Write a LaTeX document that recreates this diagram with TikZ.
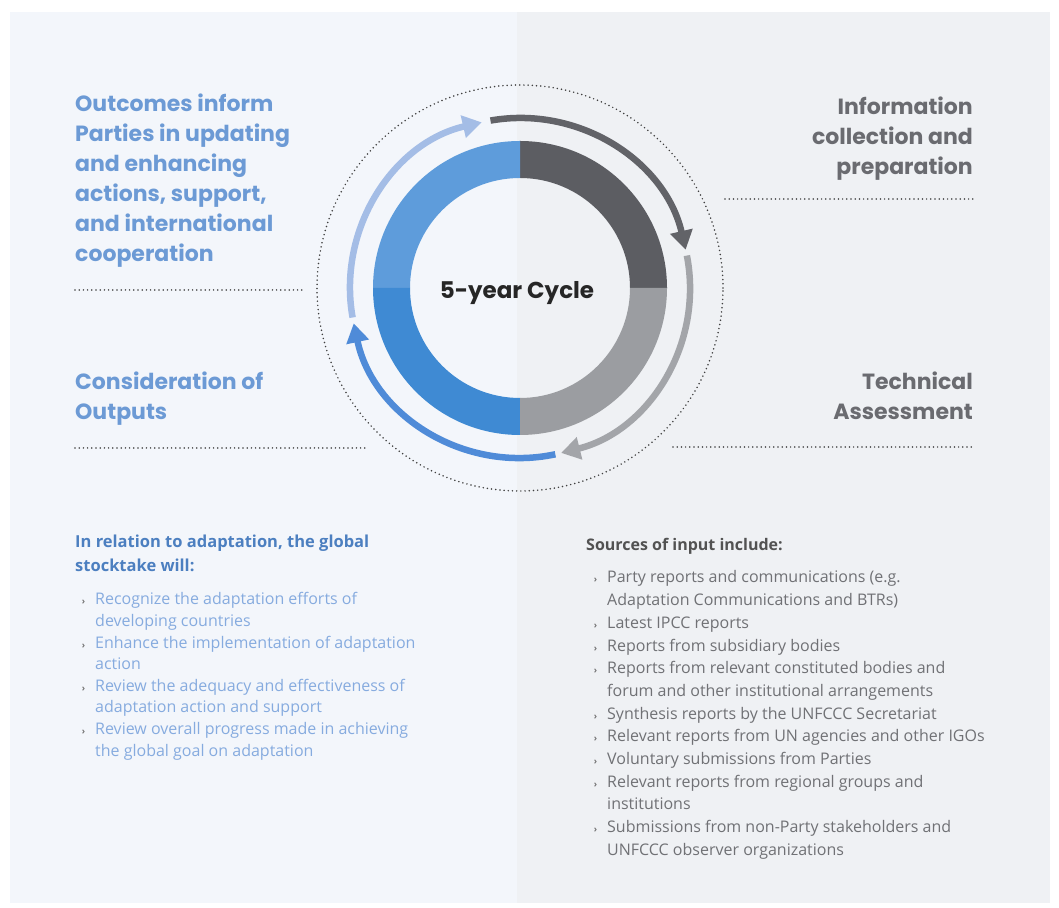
\documentclass[tikz,border=0pt]{standalone}
\usepackage{fontspec}
\setmainfont{Open Sans}
\newfontfamily\headfont{Poppins}
\usetikzlibrary{arrows.meta,positioning}
\definecolor{bgLeft}{HTML}{F3F6FB}
\definecolor{bgRight}{HTML}{EFF1F4}
\definecolor{ringDark}{HTML}{5C5D62}
\definecolor{ringGrey}{HTML}{9B9DA1}
\definecolor{ringBlue}{HTML}{3F8AD3}
\definecolor{ringLight}{HTML}{5E9CDB}
\definecolor{arrDark}{HTML}{626368}
\definecolor{arrGrey}{HTML}{A3A5A9}
\definecolor{arrBlue}{HTML}{4F8BD8}
\definecolor{arrLight}{HTML}{A4BDE6}
\definecolor{headBlue}{HTML}{6C9AD5}
\definecolor{headGrey}{HTML}{6A6B70}
\definecolor{listHead}{HTML}{4C7FC0}
\definecolor{listBlue}{HTML}{86ABDF}
\definecolor{listGrey}{HTML}{707175}
\newcommand{\blt}{\llap{\textcolor{black!55}{\bfseries\small ›}\hspace{10pt}}}

\begin{document}
\begin{tikzpicture}
[
x=1pt,y=1pt,
circarr/.style={line width=6.5pt,-{Triangle[width=22pt,length=19pt]}},
dotted line/.style={draw=black!75,line width=1.7pt,dash pattern=on 0pt off 4.2pt,line cap=round},
heading/.style={inner sep=0pt,align=left,font=\headfont\bfseries\fontsize{22}{30}\selectfont},
listhead/.style={inner sep=0pt,align=left,font=\bfseries\fontsize{16.5}{24}\selectfont},
leftitem/.style={inner sep=0pt,align=left,anchor=base west,text=listBlue,font=\fontsize{16}{21.6}\selectfont},
rightitem/.style={inner sep=0pt,align=left,anchor=base west,text=listGrey,font=\fontsize{16}{22.7}\selectfont},
]

% Background
\useasboundingbox (0,0) rectangle (1059,907);
\fill[white] (0,0) rectangle (1059,907);
\fill[bgLeft] (10,4) rectangle (517,895);
\fill[bgRight] (517,4) rectangle (1050,895);

% Cycle
\coordinate (C) at (520,619);
\fill[ringDark] ([shift={(0:110)}]C) arc[start angle=0,end angle=90,radius=110] -- ([shift={(90:147)}]C) arc[start angle=90,end angle=0,radius=147] -- cycle;
\fill[ringLight] ([shift={(90:110)}]C) arc[start angle=90,end angle=180,radius=110] -- ([shift={(180:147)}]C) arc[start angle=180,end angle=90,radius=147] -- cycle;
\fill[ringBlue] ([shift={(180:110)}]C) arc[start angle=180,end angle=270,radius=110] -- ([shift={(270:147)}]C) arc[start angle=270,end angle=180,radius=147] -- cycle;
\fill[ringGrey] ([shift={(270:110)}]C) arc[start angle=270,end angle=360,radius=110] -- ([shift={(360:147)}]C) arc[start angle=360,end angle=270,radius=147] -- cycle;
\draw[dotted line] (C) circle[radius=203];

% Arrows
\draw[circarr,arrDark] ([shift={(100:170)}]C) arc[start angle=100,end angle=13,radius=170];
\draw[circarr,arrGrey] ([shift={(11:170)}]C) arc[start angle=11,end angle=-76,radius=170];
\draw[circarr,arrBlue] ([shift={(-78:170)}]C) arc[start angle=-78,end angle=-168,radius=170];
\draw[circarr,arrLight] ([shift={(190:170)}]C) arc[start angle=190,end angle=103,radius=170];

\node[inner sep=0pt,font=\headfont\bfseries\fontsize{23}{25}\selectfont,text=black!85] (cycle) at (517,614) {5-year Cycle};

% Stage labels (anchored on the last line)
\node[heading,anchor=base west,text=headBlue] (outc) at (75,645) {Outcomes inform\\Parties in updating\\and enhancing\\actions, support,\\and international\\cooperation};
\node[heading,anchor=base west,text=headBlue] (cons) at (75,487) {Consideration of\\Outputs};
\node[heading,anchor=base east,align=right,text=headGrey] (info) at (973,732) {Information\\collection and\\preparation};
\node[heading,anchor=base east,align=right,text=headGrey] (tech) at (973,487) {Technical\\Assessment};

% Dotted leaders
\coordinate (outcA) at (75,617);
\coordinate (outcB) at (303,617);
\coordinate (consA) at (75,459);
\coordinate (consB) at (365,459);
\coordinate (infoA) at (725,708);
\coordinate (infoB) at (975,708);
\coordinate (techA) at (673,460);
\coordinate (techB) at (975,460);
\draw[dotted line] (outcA) -- (outcB);
\draw[dotted line] (consA) -- (consB);
\draw[dotted line] (infoA) -- (infoB);
\draw[dotted line] (techA) -- (techB);

% Adaptation list
\node[listhead,anchor=base west,text=listHead] (adapt) at (75,335) {In relation to adaptation, the global\\stocktake will:};
\node[leftitem] (ad1) at (95,280.4) {\blt Recognize the adaptation efforts of\\developing countries};
\node[leftitem] (ad2) at (95,237.2) {\blt Enhance the implementation of adaptation\\action};
\node[leftitem] (ad3) at (95,194) {\blt Review the adequacy and effectiveness of\\adaptation action and support};
\node[leftitem] (ad4) at (95,150.8) {\blt Review overall progress made in achieving\\the global goal on adaptation};

% Sources list
\node[inner sep=0pt,anchor=base west,text=black!68,font=\bfseries\fontsize{16}{22}\selectfont] (src) at (586,356) {Sources of input include:};
\node[rightitem] (s1) at (607,301.3) {\blt Party reports and communications (e.g.\\Adaptation Communications and BTRs)};
\node[rightitem] (s2) at (607,278.6) {\blt Latest IPCC reports};
\node[rightitem] (s3) at (607,255.9) {\blt Reports from subsidiary bodies};
\node[rightitem] (s4) at (607,210.5) {\blt Reports from relevant constituted bodies and\\forum and other institutional arrangements};
\node[rightitem] (s5) at (607,187.8) {\blt Synthesis reports by the UNFCCC Secretariat};
\node[rightitem] (s6) at (607,165.1) {\blt Relevant reports from UN agencies and other IGOs};
\node[rightitem] (s7) at (607,142.4) {\blt Voluntary submissions from Parties};
\node[rightitem] (s8) at (607,97) {\blt Relevant reports from regional groups and\\institutions};
\node[rightitem] (s9) at (607,51.6) {\blt Submissions from non-Party stakeholders and\\UNFCCC observer organizations};

\end{tikzpicture}
\end{document}
